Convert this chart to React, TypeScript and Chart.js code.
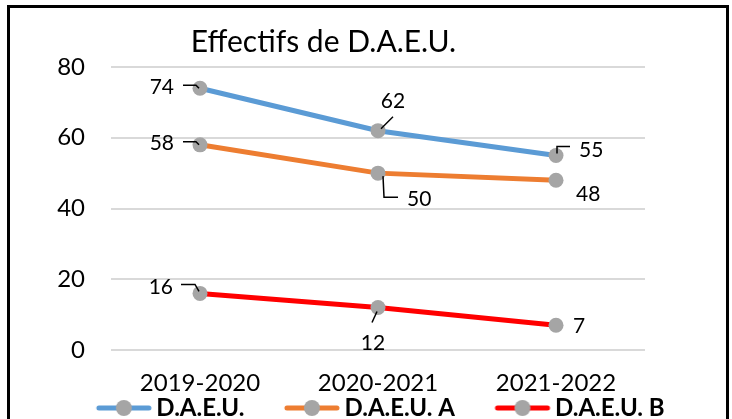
import React, { useEffect, useRef } from 'react';
import { Chart, registerables } from 'chart.js';

Chart.register(...registerables);

// ---- data ----
const categories = ['2019-2020', '2020-2021', '2021-2022'];
const seriesNames = ['D.A.E.U.', 'D.A.E.U. A', 'D.A.E.U. B'];
const daeu = [74, 62, 55];
const daeuA = [58, 50, 48];
const daeuB = [16, 12, 7];
const yTicks = [0, 20, 40, 60, 80];
const chartTitle = 'Effectifs de D.A.E.U.';

// ---- styles ----
const COLORS = ['#5B9BD5', '#ED7D31', '#FF0000'];
const MARKER = '#A5A5A5';
const FONT = 'Lato, "Open Sans", sans-serif';

type LabelPlace = { dx: number; dy: number; align: CanvasTextAlign; leader?: [number, number][] };
// label placement relative to each point (offsets in px)
const labelPlaces: LabelPlace[][] = [
  [
    { dx: -26, dy: -2, align: 'right', leader: [[-17, -3], [-4, -3], [-1, 0]] },
    { dx: 15, dy: -30, align: 'center', leader: [[15, -14], [3, -2]] },
    { dx: 23, dy: -6, align: 'left', leader: [[14, -9], [1, -9], [1, -2]] },
  ],
  [
    { dx: -26, dy: -2, align: 'right', leader: [[-17, -3], [-4, -3], [-1, 0]] },
    { dx: 29, dy: 25, align: 'left', leader: [[5, 3], [6, 24], [20, 24]] },
    { dx: 20, dy: 13, align: 'left' },
  ],
  [
    { dx: -27, dy: -7, align: 'right', leader: [[-19, -9], [-5, -9], [-1, -2]] },
    { dx: -5, dy: 35, align: 'center', leader: [[-6, 15], [-1, 4]] },
    { dx: 17, dy: 0, align: 'left' },
  ],
];

const dataLabelPlugin = {
  id: 'dataLabels',
  afterDatasetsDraw(chart: any) {
    const ctx = chart.ctx as CanvasRenderingContext2D;
    ctx.save();
    chart.data.datasets.forEach((ds: any, i: number) => {
      const meta = chart.getDatasetMeta(i);
      meta.data.forEach((pt: any, j: number) => {
        const place = labelPlaces[i][j];
        const x = pt.x;
        const y = pt.y;
        if (place.leader) {
          ctx.beginPath();
          ctx.strokeStyle = '#000';
          ctx.lineWidth = 1.5;
          place.leader.forEach(([dx, dy], k) => {
            if (k === 0) ctx.moveTo(x + dx, y + dy);
            else ctx.lineTo(x + dx, y + dy);
          });
          ctx.stroke();
        }
        ctx.font = `21px ${FONT}`;
        ctx.fillStyle = '#000';
        ctx.textAlign = place.align;
        ctx.textBaseline = 'alphabetic';
        ctx.fillText(String(ds.data[j]), x + place.dx, y + place.dy + 7.5);
      });
    });
    ctx.restore();
  },
};

const titlePlugin = {
  id: 'excelTitle',
  afterDraw(chart: any) {
    const ctx = chart.ctx as CanvasRenderingContext2D;
    ctx.save();
    ctx.font = `30px ${FONT}`;
    ctx.fillStyle = '#000';
    ctx.textAlign = 'center';
    ctx.textBaseline = 'alphabetic';
    ctx.fillText(chartTitle, 323.5, 52);
    ctx.restore();
  },
};

function legendImage(color: string): HTMLCanvasElement {
  const c = document.createElement('canvas');
  c.width = 104;
  c.height = 20;
  const g = c.getContext('2d')!;
  g.strokeStyle = color;
  g.lineWidth = 5;
  g.lineCap = 'round';
  g.beginPath();
  g.moveTo(49, 10);
  g.lineTo(99, 10);
  g.stroke();
  g.fillStyle = MARKER;
  g.beginPath();
  g.arc(74, 10, 8, 0, Math.PI * 2);
  g.fill();
  return c;
}

export default function App() {
  const canvasRef = useRef<HTMLCanvasElement | null>(null);

  useEffect(() => {
    if (!canvasRef.current) return;
    const images = COLORS.map(legendImage);
    const seriesData = [daeu, daeuA, daeuB];
    const chart = new Chart(canvasRef.current, {
      type: 'line',
      data: {
        labels: categories,
        datasets: seriesNames.map((name, i) => ({
          label: name,
          data: seriesData[i],
          borderColor: COLORS[i],
          backgroundColor: COLORS[i],
          borderWidth: 5,
          tension: 0,
          pointRadius: 7.5,
          pointHoverRadius: 7.5,
          pointBackgroundColor: MARKER,
          pointBorderColor: MARKER,
          pointBorderWidth: 0,
          yAxisID: 'y',
        })),
      },
      options: {
        responsive: false,
        animation: false,
        layout: { padding: { top: 67, left: 0, right: 8, bottom: 0 } },
        font: { family: FONT },
        scales: {
          x: {
            offset: true,
            grid: { display: false, drawTicks: false },
            border: { display: false },
            ticks: {
              color: '#000',
              font: { family: FONT, size: 24, lineHeight: 1 },
              padding: 21,
              maxRotation: 0,
              autoSkip: false,
            },
            afterFit: (s: any) => {
              s.height = 43;
            },
          },
          y: {
            position: 'left',
            min: yTicks[0],
            max: yTicks[yTicks.length - 1],
            afterBuildTicks: (s: any) => {
              s.ticks = yTicks.map((v) => ({ value: v }));
            },
            grid: { color: '#D9D9D9', lineWidth: 2, drawTicks: false },
            border: { display: false },
            ticks: {
              color: '#000',
              font: { family: FONT, size: 24 },
              padding: 26,
            },
            afterFit: (s: any) => {
              s.width = 111;
            },
          },
          y2: {
            position: 'right',
            display: true,
            grid: { display: false, drawOnChartArea: false, drawTicks: false },
            border: { display: false },
            ticks: { display: false },
            afterFit: (s: any) => {
              s.width = 79;
            },
          },
        },
        plugins: {
          title: { display: false },
          tooltip: { enabled: false },
          legend: {
            display: true,
            position: 'bottom',
            align: 'center',
            labels: {
              usePointStyle: true,
              pointStyleWidth: 85,
              padding: 3,
              color: '#000',
              font: { family: FONT, size: 24, weight: 'bold' },
              generateLabels: (c: any) => {
                const items = (Chart as any).defaults.plugins.legend.labels.generateLabels(c);
                return items.map((it: any, i: number) => ({ ...it, pointStyle: images[i] }));
              },
            },
          },
        },
      } as any,
      plugins: [dataLabelPlugin, titlePlugin],
    });
    return () => chart.destroy();
  }, []);

  return (
    <div
      style={{
        position: 'fixed',
        left: 0,
        top: 0,
        width: 732,
        height: 419,
        overflow: 'hidden',
        background: '#fff',
      }}
    >
      <canvas ref={canvasRef} width={732} height={430} style={{ display: 'block' }} />
      <div
        style={{
          position: 'absolute',
          left: 7,
          top: 5,
          width: 722,
          height: 500,
          border: '3px solid #000',
          boxSizing: 'border-box',
          pointerEvents: 'none',
        }}
      />
    </div>
  );
}
